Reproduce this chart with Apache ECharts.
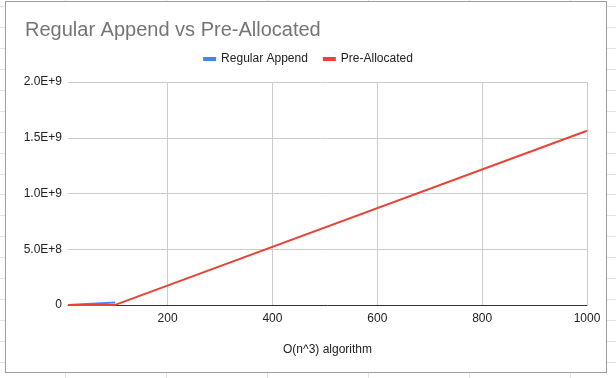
<!DOCTYPE html>
<html>
<head>
<meta charset="utf-8">
<script src="https://cdn.jsdelivr.net/npm/echarts@6/dist/echarts.min.js"></script>
<style>
  html, body { margin: 0; padding: 0; }
  body {
    width: 616px; height: 378px; position: relative; overflow: hidden;
    background-color: #fff;
    /* spreadsheet cells behind the chart */
    background-image:
      repeating-linear-gradient(to bottom, transparent 0, transparent 6px, #e2e2e2 6px, #e2e2e2 7px, transparent 7px, transparent 20.94px),
      repeating-linear-gradient(to right, transparent 0, transparent 65px, #e2e2e2 65px, #e2e2e2 66px, transparent 66px, transparent 101px);
  }
  #frame {
    position: absolute; left: 5px; top: 1px; width: 602px; height: 372px;
    box-sizing: border-box; border: 1px solid #9e9e9e; background: #fff;
  }
  #chart { position: absolute; left: 0; top: 0; width: 616px; height: 378px; }
</style>
</head>
<body>
<div id="frame"></div>
<div id="chart"></div>
<script>
// data
const seriesNames = ["Regular Append", "Pre-Allocated"];
const regularAppend = [[10, 0], [100, 2.3e7]];
const preAllocated = [[10, 0], [100, 1.0e6], [1000, 1.563e9]];
const xTicks = [200, 400, 600, 800, 1000];
const yTicks = [0, 5e8, 1e9, 1.5e9, 2e9];

const FONT = "'Liberation Sans', Arial, sans-serif";
const chart = echarts.init(document.getElementById("chart"));

function fmtY(v) {
  if (v === 0) return "0";
  return v.toExponential(1).toUpperCase();
}

const option = {
  backgroundColor: "transparent",
  textStyle: { fontFamily: FONT },
  title: {
    text: "Regular Append vs Pre-Allocated",
    left: 20,
    top: 15,
    textStyle: { color: "#757575", fontSize: 20, fontWeight: "normal", fontFamily: FONT }
  },
  legend: {
    top: 48,
    left: "center",
    itemWidth: 13,
    itemHeight: 4,
    itemGap: 15,
    icon: "rect",
    textStyle: { color: "#222", fontSize: 12, fontFamily: FONT },
    data: seriesNames
  },
  grid: { left: 68, right: 29, top: 82, bottom: 73 },
  xAxis: {
    type: "value",
    min: 10,
    max: 1000,
    name: "O(n^3) algorithm",
    nameLocation: "middle",
    nameGap: 39,
    nameTextStyle: { color: "#222", fontSize: 12, fontFamily: FONT },
    axisLine: { show: true, onZero: false, lineStyle: { color: "#333", width: 1 } },
    axisTick: { show: false, customValues: xTicks },
    axisLabel: { customValues: xTicks, color: "#222", fontSize: 12, margin: 8, formatter: (v) => String(v) },
    splitLine: { show: true, customValues: xTicks, lineStyle: { color: "#cccccc" } }
  },
  yAxis: {
    type: "value",
    min: yTicks[0],
    max: yTicks[yTicks.length - 1],
    interval: yTicks[1] - yTicks[0],
    axisLine: { show: false },
    axisTick: { show: false },
    axisLabel: { color: "#222", fontSize: 12, margin: 6, formatter: fmtY },
    splitLine: { lineStyle: { color: "#cccccc" } }
  },
  series: [
    {
      name: seriesNames[0],
      type: "line",
      data: regularAppend,
      showSymbol: false,
      color: "#4285F4",
      lineStyle: { width: 2 }
    },
    {
      name: seriesNames[1],
      type: "line",
      data: preAllocated,
      showSymbol: false,
      color: "#EA4335",
      lineStyle: { width: 2 }
    }
  ]
};

chart.setOption(option);
</script>
</body>
</html>
